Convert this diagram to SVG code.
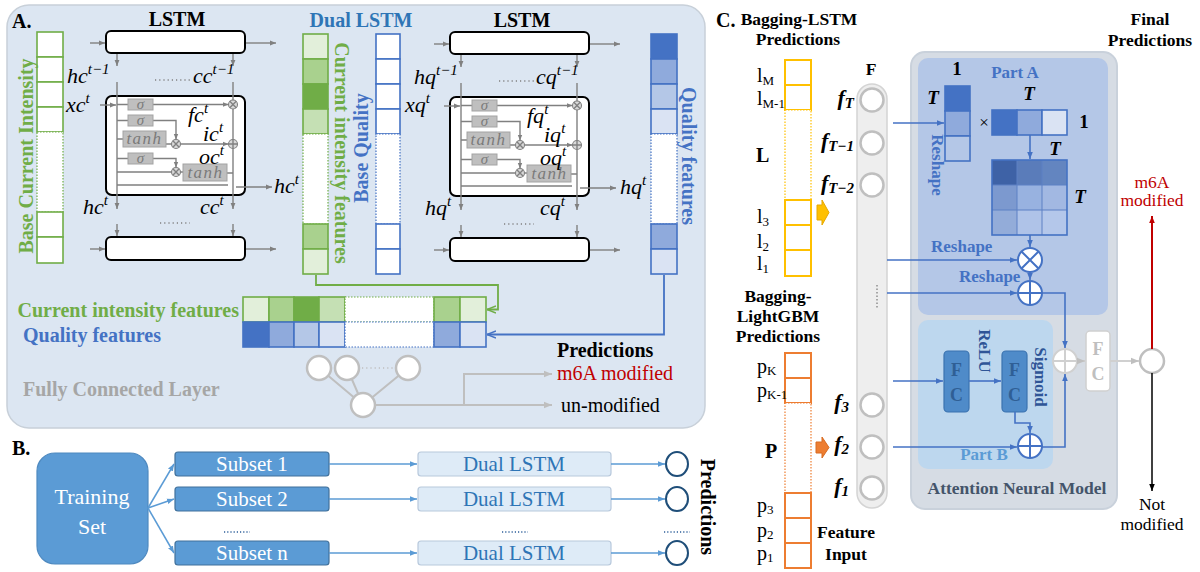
<svg xmlns="http://www.w3.org/2000/svg" width="1200" height="572" viewBox="0 0 1200 572">
<defs>
<style>
text{font-family:"Liberation Serif","Times New Roman",serif}
.b{font-weight:bold}
.m{font-style:italic;font-size:22px;fill:#000}
.lbox{fill:#fff;stroke:#000;stroke-width:2}
.gl{fill:none;stroke:#808080;stroke-width:1.4}
.gate{fill:#bfbfbf;stroke:#a3a3a3;stroke-width:1}
.gt{font-style:italic;fill:#7a7a7a;text-anchor:middle}
.sm{fill:#d9d9d9;stroke:#808080;stroke-width:1.1}
.dots{fill:none;stroke:#808080;stroke-width:1.5;stroke-dasharray:1.2 3}
.gc{stroke:#70ad47;stroke-width:1.6}
.bc{stroke:#4472c4;stroke-width:1.6}
.gd{fill:#fff;stroke:#70ad47;stroke-width:1.2;stroke-dasharray:1.5 1.5}
.bd{fill:#fff;stroke:#4472c4;stroke-width:1.2;stroke-dasharray:1.5 1.5}
.yc{fill:#fff;stroke:#ffc000;stroke-width:2}
.yd{fill:#fff;stroke:#ffc000;stroke-width:1.2;stroke-dasharray:1.5 1.5}
.oc{fill:#fff;stroke:#ed7d31;stroke-width:2}
.od{fill:#fff;stroke:#ed7d31;stroke-width:1.2;stroke-dasharray:1.5 1.5}
.fc{fill:#fff;stroke:#bfbfbf;stroke-width:2.5}
.bl{fill:none;stroke:#4472c4;stroke-width:1.6}
.gry{fill:none;stroke:#bfbfbf;stroke-width:2}
.bb{fill:none;stroke:#5b9bd5;stroke-width:1.5}
.lab{font-size:20px;fill:#000}
.fl{font-size:22px;font-weight:bold;font-style:italic;fill:#000}
.ch{font-size:17.5px;font-weight:bold;fill:#000}
.pa{font-size:17px;font-weight:bold;fill:#4472c4}
.pb{font-size:17px;font-weight:bold;fill:#5b9bd5}
.mt{font-weight:bold;font-style:italic;font-size:19px;fill:#000;text-anchor:middle}
.mt1{font-weight:bold;font-size:19px;fill:#000;text-anchor:middle}
.fcb{fill:#4f8bc9;stroke:#3b73b0;stroke-width:1.2}
.fct{font-weight:bold;font-size:18px;fill:#2f5f95;text-anchor:middle}
.sub{fill:#5b9bd5;stroke:#41719c;stroke-width:1.2}
.dl{fill:#deebf7;stroke:#b8c9dc;stroke-width:1.2}
</style>
<marker id="ag" viewBox="0 0 10 10" refX="10" refY="5" markerWidth="6" markerHeight="6" markerUnits="userSpaceOnUse" orient="auto"><path d="M0,1L10,5L0,9z" fill="#808080"/></marker>
<marker id="alg" viewBox="0 0 10 10" refX="10" refY="5" markerWidth="8" markerHeight="8" markerUnits="userSpaceOnUse" orient="auto"><path d="M0,1L10,5L0,9z" fill="#bfbfbf"/></marker>
<marker id="agr" viewBox="0 0 10 10" refX="10" refY="5" markerWidth="9" markerHeight="9" markerUnits="userSpaceOnUse" orient="auto"><path d="M0,1L10,5L0,9" fill="none" stroke="#70ad47" stroke-width="1.8"/></marker>
<marker id="abl" viewBox="0 0 10 10" refX="10" refY="5" markerWidth="9" markerHeight="9" markerUnits="userSpaceOnUse" orient="auto"><path d="M0,1L10,5L0,9" fill="none" stroke="#4472c4" stroke-width="1.8"/></marker>
<marker id="ab" viewBox="0 0 10 10" refX="10" refY="5" markerWidth="7" markerHeight="7" markerUnits="userSpaceOnUse" orient="auto"><path d="M0,1L10,5L0,9z" fill="#4472c4"/></marker>
<marker id="ab2" viewBox="0 0 10 10" refX="10" refY="5" markerWidth="7" markerHeight="7" markerUnits="userSpaceOnUse" orient="auto"><path d="M0,1L10,5L0,9z" fill="#5b9bd5"/></marker>
<marker id="ar" viewBox="0 0 10 10" refX="10" refY="5" markerWidth="7" markerHeight="7" markerUnits="userSpaceOnUse" orient="auto"><path d="M0,1L10,5L0,9z" fill="#c00000"/></marker>
<marker id="ak" viewBox="0 0 10 10" refX="10" refY="5" markerWidth="7" markerHeight="7" markerUnits="userSpaceOnUse" orient="auto"><path d="M0,1L10,5L0,9z" fill="#000"/></marker>
<g id="lstm">
 <rect x="106" y="31" width="139" height="22" rx="5" class="lbox"/>
 <path class="gl" d="M90,43H105" marker-end="url(#ag)"/>
 <path class="gl" d="M246,43H276" marker-end="url(#ag)"/>
 <path class="gl" d="M117,54V66" marker-end="url(#ag)"/>
 <path class="gl" d="M233,54V66" marker-end="url(#ag)"/>
 <path class="dots" d="M155,80H190"/>
 <rect x="106" y="96" width="139" height="99" rx="6" class="lbox"/>
 <path class="gl" d="M117,82V209" marker-end="url(#ag)"/>
 <path class="gl" d="M233,82V209" marker-end="url(#ag)"/>
 <path class="gl" d="M100,105H116" marker-end="url(#ag)"/>
 <path class="gl" d="M117,104.5H128M117,120.5H128M117,139H123M117,158.5H128M117,172H171.5M166,144H171.5M180.5,172H183M227,173H233M117,185H228"/>
 <path class="gl" d="M153,104.5H228.5" marker-end="url(#ag)"/>
 <path class="gl" d="M153,120.5H176V139.5" marker-end="url(#ag)"/>
 <path class="gl" d="M180.5,144H228.5" marker-end="url(#ag)"/>
 <path class="gl" d="M153,158.5H176V167.5" marker-end="url(#ag)"/>
 <path class="gl" d="M236,187H272" marker-end="url(#ag)"/>
 <rect class="gate" x="128" y="99" width="25" height="11"/><text class="gt" x="140.5" y="109" font-size="15">σ</text>
 <rect class="gate" x="128" y="115" width="25" height="11"/><text class="gt" x="140.5" y="125" font-size="15">σ</text>
 <rect class="gate" x="123" y="131" width="43" height="16"/><text class="gt" x="144.5" y="144" font-size="17" letter-spacing="1.5">tanh</text>
 <rect class="gate" x="128" y="153" width="25" height="11"/><text class="gt" x="140.5" y="163" font-size="15">σ</text>
 <rect class="gate" x="183" y="164" width="44" height="17"/><text class="gt" x="205.5" y="178" font-size="17" letter-spacing="1.5">tanh</text>
 <circle class="sm" cx="233" cy="104.5" r="4.5"/><path class="gl" stroke-width="1" d="M229.8,101.3L236.2,107.7M236.2,101.3L229.8,107.7"/>
 <circle class="sm" cx="176" cy="144" r="4.5"/><path class="gl" stroke-width="1" d="M172.8,140.8L179.2,147.2M179.2,140.8L172.8,147.2"/>
 <circle class="sm" cx="176" cy="172" r="4.5"/><path class="gl" stroke-width="1" d="M172.8,168.8L179.2,175.2M179.2,168.8L172.8,175.2"/>
 <circle class="sm" cx="233" cy="144" r="4.5"/><path class="gl" stroke-width="1" d="M228.5,144H237.5M233,139.5V148.5"/>
 <path class="dots" d="M160,223H190"/>
 <path class="gl" d="M117,224V236" marker-end="url(#ag)"/>
 <path class="gl" d="M233,224V236" marker-end="url(#ag)"/>
 <rect x="106" y="237" width="139" height="23" rx="5" class="lbox"/>
 <path class="gl" d="M90,249H105" marker-end="url(#ag)"/>
 <path class="gl" d="M246,249H276" marker-end="url(#ag)"/>
</g>
</defs>

<!-- Panel A -->
<g id="panelA-bg">
 <rect x="7" y="5" width="698" height="423" rx="22" fill="#dce6f2" stroke="#c8d0d9" stroke-width="1.5"/>
 <text x="12" y="28" class="b" font-size="20">A.</text>
</g>

<g id="base-current">
 <rect x="37" y="32" width="26" height="25" fill="#fff" class="gc"/>
 <rect x="37" y="57" width="26" height="25" fill="#fff" class="gc"/>
 <rect x="37" y="82" width="26" height="25" fill="#fff" class="gc"/>
 <rect x="37" y="107" width="26" height="25" fill="#fff" class="gc"/>
 <rect x="37" y="132" width="26" height="80" class="gd"/>
 <rect x="37" y="212" width="26" height="25" fill="#fff" class="gc"/>
 <rect x="37" y="237" width="26" height="26" fill="#fff" class="gc"/>
 <text transform="translate(33,156) rotate(-90)" text-anchor="middle" class="b" font-size="20" fill="#70ad47">Base Current Intensity</text>
</g>

<g id="lstm-current">
 <text x="177" y="26" text-anchor="middle" class="b" font-size="20">LSTM</text>
 <use href="#lstm"/>
 <text class="m" x="67" y="83">hc<tspan font-size="15" dy="-9">t−1</tspan></text>
 <text class="m" x="193" y="83">cc<tspan font-size="15" dy="-9">t−1</tspan></text>
 <text class="m" x="66" y="112">xc<tspan font-size="15" dy="-9">t</tspan></text>
 <text class="m" x="188" y="122">fc<tspan font-size="15" dy="-9">t</tspan></text>
 <text class="m" x="203" y="141">ic<tspan font-size="15" dy="-9">t</tspan></text>
 <text class="m" x="199" y="164">oc<tspan font-size="15" dy="-9">t</tspan></text>
 <text class="m" x="274" y="193">hc<tspan font-size="15" dy="-9">t</tspan></text>
 <text class="m" x="83" y="214">hc<tspan font-size="15" dy="-9">t</tspan></text>
 <text class="m" x="200" y="214">cc<tspan font-size="15" dy="-9">t</tspan></text>
</g>

<g id="current-features">
 <rect x="303" y="34" width="25" height="25" fill="#e2efda" class="gc"/>
 <rect x="303" y="59" width="25" height="25" fill="#a9d18e" class="gc"/>
 <rect x="303" y="84" width="25" height="25" fill="#70ad47" class="gc"/>
 <rect x="303" y="109" width="25" height="25" fill="#c5e0b4" class="gc"/>
 <rect x="303" y="134" width="25" height="90" class="gd"/>
 <rect x="303" y="224" width="25" height="25" fill="#a9d18e" class="gc"/>
 <rect x="303" y="249" width="25" height="25" fill="#e2efda" class="gc"/>
 <text transform="translate(335,153) rotate(90)" text-anchor="middle" class="b" font-size="20" fill="#70ad47">Current intensity features</text>
</g>

<g id="dual-lstm-title">
 <text x="361" y="27" text-anchor="middle" class="b" font-size="20" fill="#2e75b6">Dual LSTM</text>
</g>

<g id="base-quality">
 <rect x="376" y="34" width="24" height="25" fill="#fff" class="bc"/>
 <rect x="376" y="59" width="24" height="25" fill="#fff" class="bc"/>
 <rect x="376" y="84" width="24" height="25" fill="#fff" class="bc"/>
 <rect x="376" y="109" width="24" height="25" fill="#fff" class="bc"/>
 <rect x="376" y="134" width="24" height="90" class="bd"/>
 <rect x="376" y="224" width="24" height="25" fill="#fff" class="bc"/>
 <rect x="376" y="249" width="24" height="25" fill="#fff" class="bc"/>
 <text transform="translate(368,148) rotate(-90)" text-anchor="middle" class="b" font-size="20" fill="#4472c4">Base Quality</text>
</g>

<g id="lstm-quality">
 <text x="522" y="27" text-anchor="middle" class="b" font-size="20">LSTM</text>
 <use href="#lstm" transform="translate(344,1)"/>
 <text class="m" x="414" y="84">hq<tspan font-size="15" dy="-9">t−1</tspan></text>
 <text class="m" x="536" y="84">cq<tspan font-size="15" dy="-9">t−1</tspan></text>
 <text class="m" x="405" y="112">xq<tspan font-size="15" dy="-9">t</tspan></text>
 <text class="m" x="527" y="123">fq<tspan font-size="15" dy="-9">t</tspan></text>
 <text class="m" x="544" y="142">iq<tspan font-size="15" dy="-9">t</tspan></text>
 <text class="m" x="540" y="165">oq<tspan font-size="15" dy="-9">t</tspan></text>
 <text class="m" x="620" y="194">hq<tspan font-size="15" dy="-9">t</tspan></text>
 <text class="m" x="425" y="215">hq<tspan font-size="15" dy="-9">t</tspan></text>
 <text class="m" x="540" y="215">cq<tspan font-size="15" dy="-9">t</tspan></text>
</g>

<g id="quality-features">
 <rect x="651" y="34" width="26" height="25" fill="#4472c4" class="bc"/>
 <rect x="651" y="59" width="26" height="25" fill="#8faadc" class="bc"/>
 <rect x="651" y="84" width="26" height="25" fill="#b4c7e7" class="bc"/>
 <rect x="651" y="109" width="26" height="25" fill="#dae3f3" class="bc"/>
 <rect x="651" y="134" width="26" height="90" class="bd"/>
 <rect x="651" y="224" width="26" height="25" fill="#8faadc" class="bc"/>
 <rect x="651" y="249" width="26" height="25" fill="#dae3f3" class="bc"/>
 <text transform="translate(682,156) rotate(90)" text-anchor="middle" class="b" font-size="20" fill="#4472c4">Quality features</text>
</g>

<g id="feature-rows">
 <text x="239" y="317" text-anchor="end" class="b" font-size="20" fill="#70ad47">Current intensity features</text>
 <text x="23" y="342" class="b" font-size="20" fill="#4472c4">Quality features</text>
 <rect x="243" y="297" width="26" height="25" fill="#e2efda" class="gc"/>
 <rect x="269" y="297" width="25" height="25" fill="#a9d18e" class="gc"/>
 <rect x="294" y="297" width="25" height="25" fill="#70ad47" class="gc"/>
 <rect x="319" y="297" width="26" height="25" fill="#c5e0b4" class="gc"/>
 <rect x="345" y="297" width="89" height="25" class="gd"/>
 <rect x="434" y="297" width="26" height="25" fill="#a9d18e" class="gc"/>
 <rect x="460" y="297" width="26" height="25" fill="#e2efda" class="gc"/>
 <rect x="243" y="322" width="26" height="25" fill="#4472c4" class="bc"/>
 <rect x="269" y="322" width="25" height="25" fill="#8faadc" class="bc"/>
 <rect x="294" y="322" width="25" height="25" fill="#b4c7e7" class="bc"/>
 <rect x="319" y="322" width="26" height="25" fill="#dae3f3" class="bc"/>
 <rect x="345" y="322" width="89" height="25" class="bd"/>
 <rect x="434" y="322" width="26" height="25" fill="#8faadc" class="bc"/>
 <rect x="460" y="322" width="26" height="25" fill="#dae3f3" class="bc"/>
</g>

<g id="fc-layer">
 <text x="23" y="396" class="b" font-size="20" fill="#a6a6a6">Fully Connected Layer</text>
 <path class="gry" d="M363,405L319,368M363,405L347,368M363,405L408,368"/>
 <circle class="fc" cx="319" cy="368" r="12"/>
 <circle class="fc" cx="347" cy="368" r="12"/>
 <circle class="fc" cx="408" cy="368" r="12"/>
 <path d="M362,368H393" fill="none" stroke="#bfbfbf" stroke-width="1.5" stroke-dasharray="1.2 3"/>
 <circle class="fc" cx="363" cy="405" r="12"/>
 <text x="557" y="357" class="b" font-size="20">Predictions</text>
 <text x="557" y="380" font-size="20" fill="#c00000">m6A modified</text>
 <text x="561" y="412" font-size="20">un-modified</text>
</g>

<g id="connectors-A">
 <path d="M316,275V285H498V309.5H487" fill="none" stroke="#70ad47" stroke-width="1.8" marker-end="url(#agr)"/>
 <path d="M664,275V334.5H487" fill="none" stroke="#4472c4" stroke-width="1.8" marker-end="url(#abl)"/>
 <path class="gry" d="M375,405H552" marker-end="url(#alg)"/>
 <path class="gry" d="M464,405V374H552" marker-end="url(#alg)"/>
</g>

<!-- Panel B -->
<g id="panelB-label"><text x="12" y="455" class="b" font-size="20">B.</text></g>
<g id="training-set">
 <rect x="37" y="453" width="111" height="111" rx="18" fill="#5b9bd5" stroke="#4f8ac0" stroke-width="1.2"/>
 <text x="92" y="504" text-anchor="middle" font-size="22" fill="#fff">Training</text>
 <text x="92" y="534" text-anchor="middle" font-size="22" fill="#fff">Set</text>
</g>
<g id="subset-1"><rect class="sub" x="175" y="452" width="154" height="24" rx="3"/><text x="252" y="471" text-anchor="middle" font-size="21" fill="#fff">Subset 1</text></g>
<g id="subset-2"><rect class="sub" x="175" y="487" width="154" height="24" rx="3"/><text x="252" y="506" text-anchor="middle" font-size="21" fill="#fff">Subset 2</text></g>
<g id="subset-n"><rect class="sub" x="175" y="541" width="154" height="24" rx="3"/><text x="252" y="560" text-anchor="middle" font-size="21" fill="#fff">Subset n</text></g>
<g id="dual-1"><rect class="dl" x="418" y="452" width="193" height="24" rx="3"/><text x="514" y="471" text-anchor="middle" font-size="21" fill="#2e75b6">Dual LSTM</text></g>
<g id="dual-2"><rect class="dl" x="418" y="487" width="193" height="24" rx="3"/><text x="514" y="506" text-anchor="middle" font-size="21" fill="#2e75b6">Dual LSTM</text></g>
<g id="dual-n"><rect class="dl" x="418" y="541" width="193" height="24" rx="3"/><text x="514" y="560" text-anchor="middle" font-size="21" fill="#2e75b6">Dual LSTM</text></g>
<g id="pred-circles">
 <ellipse cx="677" cy="464" rx="11" ry="12" fill="#fff" stroke="#1f4e79" stroke-width="2"/>
 <ellipse cx="677" cy="499" rx="11" ry="12" fill="#fff" stroke="#1f4e79" stroke-width="2"/>
 <ellipse cx="677" cy="553" rx="11" ry="12" fill="#fff" stroke="#1f4e79" stroke-width="2"/>
 <text transform="translate(701,507) rotate(90)" text-anchor="middle" class="b" font-size="20">Predictions</text>
</g>
<g id="dotsB" fill="none" stroke="#2e5f9a" stroke-width="1.5" stroke-dasharray="1.2 2">
 <path d="M224,532H250M502,532H528M664,532H690"/>
</g>
<g id="connectors-B">
 <path class="bb" d="M148,508L174,464" marker-end="url(#ab2)"/>
 <path class="bb" d="M148,508L174,499" marker-end="url(#ab2)"/>
 <path class="bb" d="M148,508L174,553" marker-end="url(#ab2)"/>
 <path class="bb" d="M329,464H417" marker-end="url(#ab2)"/>
 <path class="bb" d="M329,499H417" marker-end="url(#ab2)"/>
 <path class="bb" d="M329,553H417" marker-end="url(#ab2)"/>
 <path class="bb" d="M611,464H665" marker-end="url(#ab2)"/>
 <path class="bb" d="M611,499H665" marker-end="url(#ab2)"/>
 <path class="bb" d="M611,553H665" marker-end="url(#ab2)"/>
</g>

<!-- Panel C -->
<g id="panelC-titles">
 <text x="716" y="27" class="b" font-size="20">C.</text>
 <text x="799" y="25" text-anchor="middle" class="ch">Bagging-LSTM</text>
 <text x="798" y="45" text-anchor="middle" class="ch">Predictions</text>
 <text x="1150" y="25" text-anchor="middle" class="ch">Final</text>
 <text x="1150" y="46" text-anchor="middle" class="ch">Predictions</text>
</g>

<g id="lstm-preds">
 <rect class="yc" x="785" y="60" width="26" height="25"/>
 <rect class="yc" x="785" y="85" width="26" height="25"/>
 <rect class="yd" x="785" y="110" width="26" height="90"/>
 <rect class="yc" x="785" y="200" width="26" height="25"/>
 <rect class="yc" x="785" y="225" width="26" height="25"/>
 <rect class="yc" x="785" y="250" width="26" height="26"/>
 <text class="lab" x="757" y="82">l<tspan font-size="13" dy="3">M</tspan></text>
 <text class="lab" x="757" y="105">l<tspan font-size="13" dy="3">M-1</tspan></text>
 <text class="lab b" x="756" y="162">L</text>
 <text class="lab" x="757" y="223">l<tspan font-size="13" dy="3">3</tspan></text>
 <text class="lab" x="757" y="248">l<tspan font-size="13" dy="3">2</tspan></text>
 <text class="lab" x="757" y="270">l<tspan font-size="13" dy="3">1</tspan></text>
 <polygon points="817,205 822,205 822,200 829,212.5 822,225 822,220 817,220" fill="#ffc000" stroke="#e6a800" stroke-width="1"/>
</g>

<g id="gbm-preds">
 <text x="778" y="302" text-anchor="middle" class="ch">Bagging-</text>
 <text x="778" y="322" text-anchor="middle" class="ch">LightGBM</text>
 <text x="778" y="342" text-anchor="middle" class="ch">Predictions</text>
 <rect class="oc" x="785" y="353" width="26" height="25"/>
 <rect class="oc" x="785" y="378" width="26" height="25"/>
 <rect class="od" x="785" y="403" width="26" height="90"/>
 <rect class="oc" x="785" y="493" width="26" height="25"/>
 <rect class="oc" x="785" y="518" width="26" height="25"/>
 <rect class="oc" x="785" y="543" width="26" height="25"/>
 <text class="lab" x="757" y="373">p<tspan font-size="13" dy="2">K</tspan></text>
 <text class="lab" x="757" y="397">p<tspan font-size="13" dy="2">K-1</tspan></text>
 <text class="lab b" x="765" y="458">P</text>
 <text class="lab" x="757" y="512">p<tspan font-size="13" dy="2">3</tspan></text>
 <text class="lab" x="757" y="537">p<tspan font-size="13" dy="2">2</tspan></text>
 <text class="lab" x="757" y="560">p<tspan font-size="13" dy="2">1</tspan></text>
 <polygon points="816,442 822,442 822,437 829,447.5 822,458 822,453 816,453" fill="#ed7d31" stroke="#d86a20" stroke-width="1"/>
 <text x="846" y="538" text-anchor="middle" class="ch">Feature</text>
 <text x="846" y="560" text-anchor="middle" class="ch">Input</text>
</g>

<g id="feature-F">
 <text x="871" y="75" text-anchor="middle" class="ch">F</text>
 <rect x="857" y="84" width="30" height="424" rx="15" fill="#eeeeee" stroke="#d4d4d4" stroke-width="1.5"/>
 <circle class="fc" cx="872" cy="100" r="11.5"/>
 <circle class="fc" cx="872" cy="143" r="11.5"/>
 <circle class="fc" cx="872" cy="185" r="11.5"/>
 <circle class="fc" cx="872" cy="405" r="11.5"/>
 <circle class="fc" cx="872" cy="447" r="11.5"/>
 <circle class="fc" cx="872" cy="488" r="11.5"/>
 <path d="M877,285V309" fill="none" stroke="#a6a6a6" stroke-width="2" stroke-dasharray="1.5 2"/>
 <text class="fl" x="854" y="105" text-anchor="end">f<tspan font-size="15" dy="3">T</tspan></text>
 <text class="fl" x="854" y="148" text-anchor="end">f<tspan font-size="15" dy="3">T−1</tspan></text>
 <text class="fl" x="854" y="190" text-anchor="end">f<tspan font-size="15" dy="3">T−2</tspan></text>
 <text class="fl" x="849" y="409" text-anchor="end">f<tspan font-size="15" dy="3">3</tspan></text>
 <text class="fl" x="849" y="451" text-anchor="end">f<tspan font-size="15" dy="3">2</tspan></text>
 <text class="fl" x="849" y="493" text-anchor="end">f<tspan font-size="15" dy="3">1</tspan></text>
</g>

<g id="attention-model">
 <rect x="911" y="52" width="206" height="457" rx="14" fill="#d6dce4" stroke="#c9d1db" stroke-width="2"/>
 <text x="1017" y="494" text-anchor="middle" font-size="17.5" class="b" fill="#44546a">Attention Neural Model</text>
</g>

<g id="part-A">
 <rect x="918" y="58" width="190" height="257" rx="10" fill="#b4c7e7"/>
 <text x="1015" y="78" text-anchor="middle" class="pa">Part A</text>
 <text class="mt1" x="957" y="75">1</text>
 <text class="mt" x="933" y="104">T</text>
 <rect x="945" y="86" width="25" height="25" fill="#4472c4" class="bc"/>
 <rect x="945" y="111" width="25" height="25" fill="#8faadc" class="bc"/>
 <rect x="945" y="136" width="25" height="25" fill="#b4c7e7" class="bc"/>
 <text transform="translate(932,165) rotate(90)" text-anchor="middle" class="pa">Reshape</text>
 <text x="984" y="128" text-anchor="middle" font-size="17" font-family="DejaVu Sans,sans-serif" fill="#000">×</text>
 <text class="mt" x="1029" y="100">T</text>
 <rect x="992" y="110" width="25" height="25" fill="#4472c4" class="bc"/>
 <rect x="1017" y="110" width="25" height="25" fill="#8faadc" class="bc"/>
 <rect x="1042" y="110" width="25" height="25" fill="#dae3f3" class="bc"/>
 <text class="mt1" x="1084" y="128">1</text>
 <text class="mt" x="1055" y="155">T</text>
 <rect x="992" y="160" width="25" height="25" fill="#3e62a6"/>
 <rect x="1017" y="160" width="25" height="25" fill="#5a7cba"/>
 <rect x="1042" y="160" width="25" height="25" fill="#6385c0"/>
 <rect x="992" y="185" width="25" height="25" fill="#7c99cf"/>
 <rect x="1017" y="185" width="25" height="25" fill="#98b2e0"/>
 <rect x="1042" y="185" width="25" height="25" fill="#a2b8e2"/>
 <rect x="992" y="210" width="25" height="25" fill="#93acd9"/>
 <rect x="1017" y="210" width="25" height="25" fill="#afc3e8"/>
 <rect x="1042" y="210" width="25" height="25" fill="#b4c7ea"/>
 <path d="M1017,160V235M1042,160V235M992,185H1067M992,210H1067" fill="none" stroke="#5d80c4" stroke-width="1"/>
 <rect x="992" y="160" width="75" height="75" fill="none" class="bc"/>
 <text class="mt" x="1080" y="203">T</text>
 <text x="931" y="252" class="pa">Reshape</text>
 <text x="959" y="282" class="pa">Reshape</text>
 <circle cx="1030" cy="260" r="12" fill="#fff" stroke="#4472c4" stroke-width="2"/>
 <path d="M1021.5,251.5L1038.5,268.5M1038.5,251.5L1021.5,268.5" fill="none" stroke="#4472c4" stroke-width="2"/>
 <circle cx="1030" cy="293" r="12" fill="#fff" stroke="#4472c4" stroke-width="2"/>
 <path d="M1018,293H1042M1030,281V305" fill="none" stroke="#4472c4" stroke-width="2"/>
</g>

<g id="part-B">
 <rect x="918" y="320" width="135" height="149" rx="10" fill="#bdd7ee"/>
 <text x="984" y="460" text-anchor="middle" class="pb">Part B</text>
 <rect class="fcb" x="944" y="351" width="25" height="61" rx="4"/>
 <text class="fct" x="956.5" y="376">F</text><text class="fct" x="956.5" y="401">C</text>
 <rect class="fcb" x="1002" y="351" width="25" height="61" rx="4"/>
 <text class="fct" x="1014.5" y="376">F</text><text class="fct" x="1014.5" y="401">C</text>
 <text transform="translate(979,351) rotate(90)" text-anchor="middle" class="b" font-size="17" fill="#2f5597">ReLU</text>
 <text transform="translate(1035,377) rotate(90)" text-anchor="middle" class="b" font-size="17" fill="#2f5597">Sigmoid</text>
 <circle cx="1030" cy="446" r="12" fill="#fff" stroke="#4472c4" stroke-width="2"/>
 <path d="M1018,446H1042M1030,434V458" fill="none" stroke="#4472c4" stroke-width="2"/>
</g>

<g id="output-C">
 <circle cx="1065" cy="361" r="12" fill="#fff" stroke="#d0d0d0" stroke-width="2"/>
 <path d="M1053,361H1077M1065,349V373" fill="none" stroke="#d0d0d0" stroke-width="2"/>
 <rect x="1086" y="331" width="24" height="60" rx="4" fill="#fff" stroke="#d0d0d0" stroke-width="1.5"/>
 <text x="1098" y="355" text-anchor="middle" class="b" font-size="18" fill="#bfbfbf">F</text>
 <text x="1098" y="380" text-anchor="middle" class="b" font-size="18" fill="#bfbfbf">C</text>
 <circle class="fc" cx="1152" cy="361" r="12"/>
 <text x="1152" y="188" text-anchor="middle" font-size="17.5" fill="#c00000">m6A</text>
 <text x="1152" y="206" text-anchor="middle" font-size="17.5" fill="#c00000">modified</text>
 <text x="1152" y="510" text-anchor="middle" font-size="17.5">Not</text>
 <text x="1152" y="530" text-anchor="middle" font-size="17.5">modified</text>
</g>

<g id="connectors-C">
 <path class="bl" d="M893,123H944" marker-end="url(#ab)"/>
 <path class="bl" d="M1030,135V159" marker-end="url(#ab)"/>
 <path class="bl" d="M1030,235V247" marker-end="url(#ab)"/>
 <path class="bl" d="M887,260H1017" marker-end="url(#ab)"/>
 <path class="bl" d="M1030,272V280" marker-end="url(#ab)"/>
 <path class="bl" d="M887,293H1017" marker-end="url(#ab)"/>
 <path class="bl" d="M1042,293H1065V348" marker-end="url(#ab)"/>
 <path class="bl" d="M893,381H943" marker-end="url(#ab)"/>
 <path class="bl" d="M969,381H1001" marker-end="url(#ab)"/>
 <path class="bl" d="M1015,412V423H1030V433" marker-end="url(#ab)"/>
 <path class="bl" d="M893,447H1017" marker-end="url(#ab)"/>
 <path class="bl" d="M1042,447H1065V374" marker-end="url(#ab)"/>
 <path d="M1077,361H1085" fill="none" stroke="#d0d0d0" stroke-width="2" marker-end="url(#alg)"/>
 <path d="M1110,361H1139" fill="none" stroke="#d0d0d0" stroke-width="2" marker-end="url(#alg)"/>
 <path d="M1152,349V216" fill="none" stroke="#c00000" stroke-width="2" marker-end="url(#ar)"/>
 <path d="M1152,373V491" fill="none" stroke="#000" stroke-width="1.5" marker-end="url(#ak)"/>
</g>
</svg>
